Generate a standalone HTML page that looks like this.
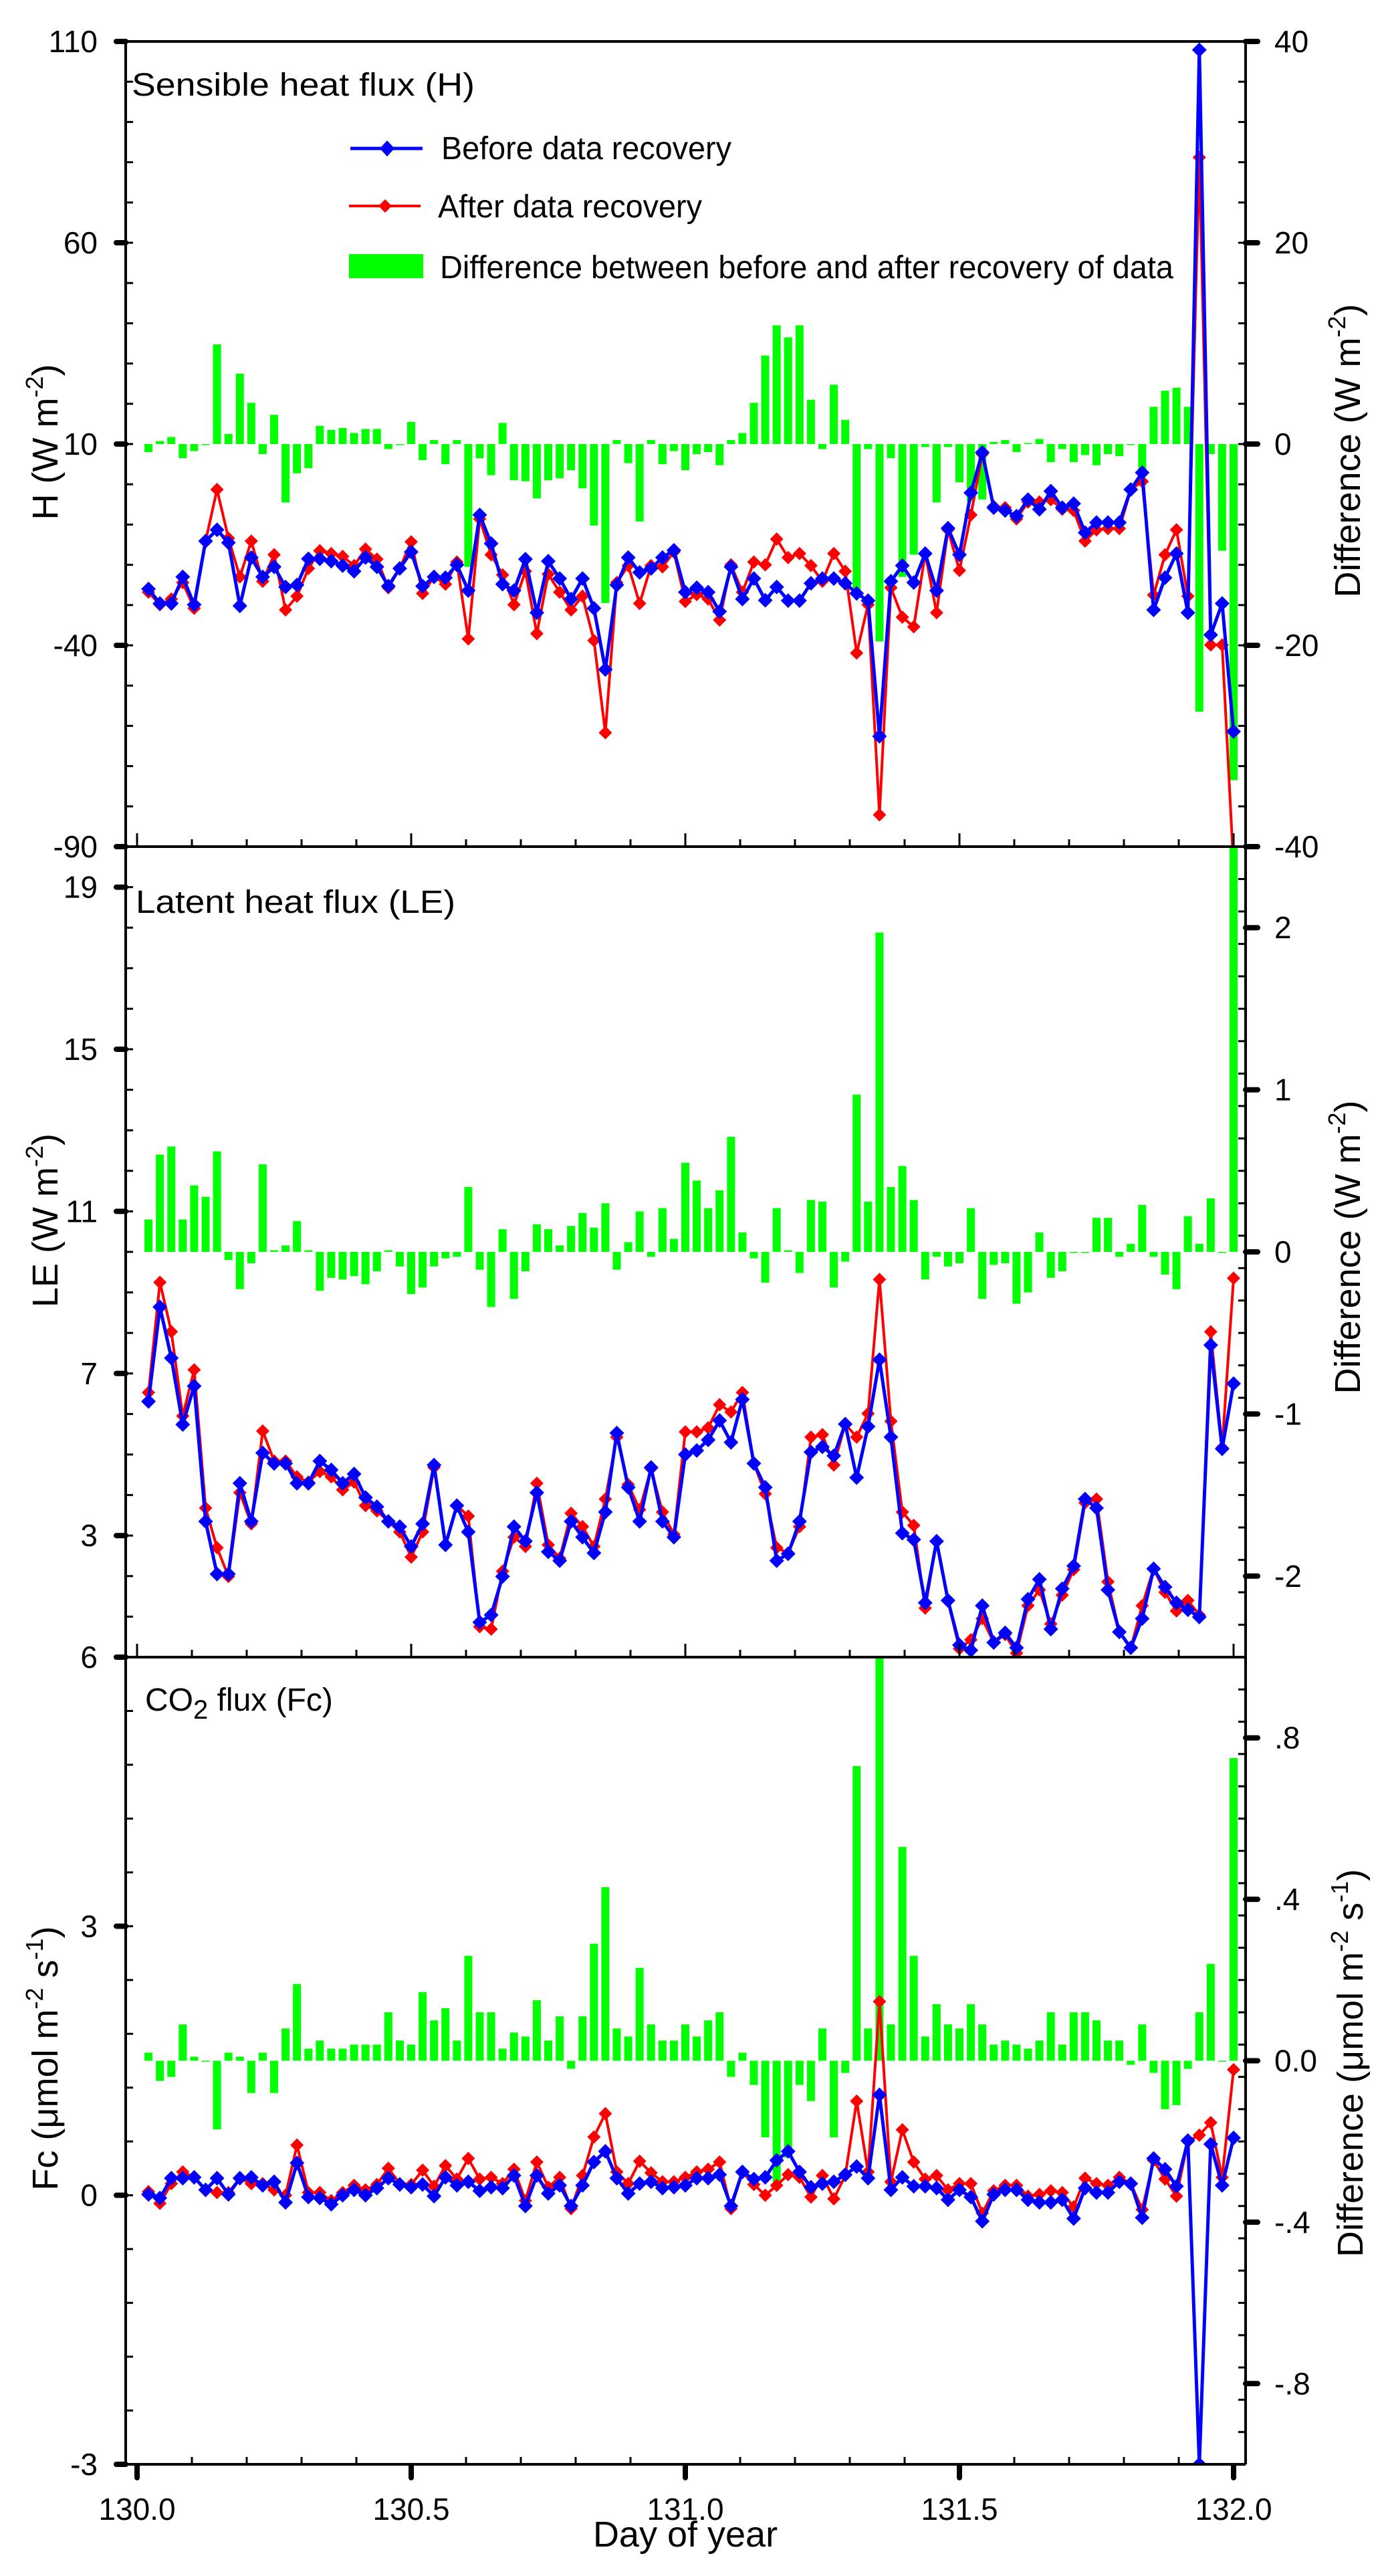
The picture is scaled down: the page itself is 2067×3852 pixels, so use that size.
<!DOCTYPE html>
<html>
<head>
<meta charset="utf-8">
<style>
html,body{margin:0;padding:0;background:#fff;}
svg{display:block;}
text{font-family:"Liberation Sans",Arial,sans-serif;fill:#000;}
</style>
</head>
<body>
<svg id="chart" width="2067" height="3852" viewBox="0 0 2067 3852">
<defs>
<clipPath id="clip0"><rect x="188" y="62" width="1675" height="1204"/></clipPath>
<clipPath id="clip1"><rect x="188" y="1266" width="1675" height="1212"/></clipPath>
<clipPath id="clip2"><rect x="188" y="2478" width="1675" height="1207"/></clipPath>
</defs>
<rect x="0" y="0" width="2067" height="3852" fill="#fff"/>
<g id="bars"></g>
<g id="lines"></g>
<g id="axes"></g>

<text x="197" y="143" font-size="48" textLength="513" lengthAdjust="spacingAndGlyphs">Sensible heat flux (H)</text>
<text x="203" y="1365" font-size="48" textLength="478" lengthAdjust="spacingAndGlyphs">Latent heat flux (LE)</text>
<text x="217" y="2558" font-size="48">CO<tspan font-size="40" dy="12">2</tspan><tspan dy="-12"> flux (Fc)</tspan></text>

<g>
<line x1="524" y1="222" x2="632" y2="222" stroke="#0000ff" stroke-width="5"/>
<polygon points="579,210 590,222 579,234 568,222" fill="#0000ff"/>
<text x="660" y="238" font-size="48" textLength="434" lengthAdjust="spacingAndGlyphs">Before data recovery</text>
<line x1="522" y1="308" x2="629" y2="308" stroke="#ff0000" stroke-width="4"/>
<polygon points="576,298 586,308 576,318 566,308" fill="#ff0000"/>
<text x="655" y="325" font-size="48" textLength="395" lengthAdjust="spacingAndGlyphs">After data recovery</text>
<rect x="522" y="380" width="111" height="36" fill="#00ff00"/>
<text x="658" y="416" font-size="48" textLength="1097" lengthAdjust="spacingAndGlyphs">Difference between before and after recovery of data</text>
</g>

<text transform="translate(86,661) rotate(-90)" text-anchor="middle" font-size="54">H (W m<tspan font-size="36" dy="-22">-2</tspan><tspan dy="22">)</tspan></text>
<text transform="translate(2034,674) rotate(-90)" text-anchor="middle" font-size="54">Difference (W m<tspan font-size="36" dy="-22">-2</tspan><tspan dy="22">)</tspan></text>
<text transform="translate(86,1825) rotate(-90)" text-anchor="middle" font-size="54">LE (W m<tspan font-size="36" dy="-22">-2</tspan><tspan dy="22">)</tspan></text>
<text transform="translate(2034,1865) rotate(-90)" text-anchor="middle" font-size="54">Difference (W m<tspan font-size="36" dy="-22">-2</tspan><tspan dy="22">)</tspan></text>
<text transform="translate(86,3078) rotate(-90)" text-anchor="middle" font-size="54">Fc (μmol m<tspan font-size="36" dy="-22">-2</tspan><tspan dy="22"> s</tspan><tspan font-size="36" dy="-22">-1</tspan><tspan dy="22">)</tspan></text>
<text transform="translate(2038,3085) rotate(-90)" text-anchor="middle" font-size="54">Difference (μmol m<tspan font-size="36" dy="-22">-2</tspan><tspan dy="22"> s</tspan><tspan font-size="36" dy="-22">-1</tspan><tspan dy="22">)</tspan></text>
<text x="1025" y="3808" text-anchor="middle" font-size="54">Day of year</text>
</svg>
<script>
const dayStart = 130;
const dayStep = 1 / 48;

const hBefore = [-26.0,-29.6,-29.6,-23.0,-29.9,-14.1,-11.3,-14.5,-30.2,-18.2,
-23.0,-20.5,-25.5,-25.0,-18.5,-18.5,-19.1,-20.2,-21.6,-18.2,
-20.5,-25.3,-20.9,-16.8,-25.3,-23.0,-23.2,-20.0,-26.4,-7.6,
-14.7,-24.8,-26.4,-18.6,-31.9,-19.1,-23.4,-28.5,-23.4,-30.8,
-46.0,-25.0,-18.2,-21.9,-20.9,-18.2,-16.4,-26.8,-25.7,-26.8,
-31.6,-20.5,-28.5,-23.4,-28.8,-25.5,-28.9,-28.9,-24.6,-23.4,
-23.4,-24.6,-27.1,-28.9,-62.6,-24.1,-20.2,-24.4,-17.2,-26.4,
-10.9,-17.5,-2.1,7.9,-5.8,-6.5,-7.9,-3.8,-6.2,-1.7,
-5.8,-4.8,-12.0,-9.5,-9.5,-9.5,-1.3,2.9,-31.2,-23.2,
-17.2,-31.9,107.9,-37.4,-29.6,-61.4];
const hAfter = [-26.8,-29.9,-28.5,-24.4,-30.8,-14.1,-1.3,-13.4,-23.0,-14.1,
-24.1,-17.5,-31.2,-27.8,-20.9,-16.5,-17.2,-17.9,-20.2,-16.1,
-18.6,-25.7,-20.9,-14.3,-27.1,-23.0,-24.8,-19.3,-38.4,-8.6,
-17.5,-22.5,-29.9,-21.6,-37.1,-22.3,-26.8,-31.2,-27.8,-38.8,
-61.7,-24.4,-20.2,-29.6,-20.2,-20.5,-16.8,-29.1,-27.4,-28.5,
-33.7,-20.0,-26.8,-19.3,-20.0,-13.6,-18.2,-17.2,-20.2,-24.1,
-17.2,-21.6,-41.9,-29.9,-82.1,-25.7,-33.0,-35.4,-17.2,-31.9,
-11.3,-21.4,-7.6,7.5,-5.5,-5.8,-8.6,-4.4,-4.4,-3.8,
-6.2,-6.5,-14.1,-11.3,-11.0,-11.0,-1.3,0.7,-27.5,-17.5,
-11.3,-27.8,81.2,-39.9,-39.9,-95];
const hDiff = [-0.8,0.3,0.7,-1.4,-0.7,0,9.9,1.0,7.0,4.1,
-1.0,2.9,-5.8,-2.9,-2.4,1.8,1.4,1.6,1.1,1.5,
1.5,-0.5,0,2.2,-1.6,0.4,-2.0,0.4,-12.2,-1.4,
-3.1,2.1,-3.6,-3.7,-5.4,-3.6,-3.4,-2.6,-4.4,-8.1,
-15.8,0.4,-1.9,-7.7,0.4,-2.0,-0.7,-2.6,-1.0,-0.8,
-2.1,0.4,1.1,4.1,8.8,11.8,10.6,11.8,4.4,-0.5,
5.9,2.4,-15.0,-0.5,-19.6,-1.4,-13.2,-11.0,-0.3,-5.8,
-0.3,-3.8,-5.7,-5.5,0.2,0.4,-0.8,0.1,0.5,-1.8,
-0.5,-1.8,-1.1,-2.1,-1.0,-1.2,-0.1,-2.7,3.7,5.3,
5.6,3.7,-26.6,-1.0,-10.6,-33.4];

const leBefore = [6.31,8.64,7.38,5.74,6.69,3.35,2.05,2.05,4.29,3.35,
5.04,4.78,4.78,4.29,4.29,4.84,4.62,4.29,4.52,3.94,
3.71,3.35,3.22,2.73,3.29,4.74,2.77,3.74,3.09,0.86,
1.04,1.99,3.22,2.86,4.06,2.60,2.38,3.35,2.96,2.57,
3.58,5.53,4.19,3.35,4.68,3.35,2.96,5.00,5.10,5.36,
5.84,5.30,6.36,4.78,4.19,2.38,2.55,3.35,5.06,5.19,
4.97,5.75,4.43,5.69,7.34,5.43,3.06,2.90,1.34,2.86,
1.40,0.30,0.17,1.27,0.36,0.60,0.23,1.43,1.92,0.69,
1.69,2.25,3.90,3.68,1.66,0.62,0.23,0.95,2.18,1.73,
1.34,1.17,0.99,7.70,5.14,6.75];
const leAfter = [6.53,9.25,8.03,5.95,7.09,3.68,2.70,1.99,4.06,3.29,
5.58,4.84,4.84,4.45,4.32,4.58,4.45,4.13,4.32,3.74,
3.61,3.35,3.09,2.47,3.09,4.68,2.77,3.74,3.48,0.75,
0.69,2.12,2.96,2.73,4.29,2.77,2.44,3.55,3.22,2.73,
3.90,5.43,4.26,3.64,4.65,3.58,3.03,5.56,5.56,5.66,
6.23,6.05,6.53,4.78,4.03,2.70,2.57,3.22,5.43,5.49,
4.74,5.75,5.43,6.01,9.32,5.82,3.58,3.25,1.21,2.86,
1.38,0.21,0.43,0.95,0.36,0.56,0.10,1.27,1.66,0.82,
1.53,2.16,3.81,3.90,1.86,0.62,0.23,1.27,2.18,1.60,
1.14,1.40,1.04,8.03,5.17,9.35];
const leDiff = [0.20,0.60,0.65,0.20,0.41,0.34,0.62,-0.05,-0.23,-0.07,
0.54,0.01,0.04,0.19,0.01,-0.24,-0.16,-0.17,-0.15,-0.20,
-0.12,0.01,-0.09,-0.26,-0.22,-0.09,-0.04,-0.03,0.40,-0.11,
-0.34,0.14,-0.29,-0.12,0.17,0.14,0.04,0.16,0.24,0.15,
0.30,-0.11,0.06,0.25,-0.03,0.27,0.08,0.55,0.44,0.27,
0.38,0.71,0.12,-0.04,-0.19,0.27,0.01,-0.13,0.32,0.31,
-0.22,-0.06,0.97,0.31,1.97,0.40,0.53,0.32,-0.17,-0.03,
-0.09,-0.07,0.27,-0.29,-0.08,-0.07,-0.32,-0.25,0.12,-0.16,
-0.12,0.00,0.00,0.21,0.21,-0.03,0.05,0.29,-0.03,-0.14,
-0.23,0.22,0.05,0.33,0.00,2.6];

const fcBefore = [0.01,-0.03,0.19,0.19,0.20,0.06,0.19,0.01,0.19,0.20,
0.11,0.15,-0.08,0.36,-0.02,-0.03,-0.10,0.00,0.06,0.00,
0.08,0.19,0.12,0.09,0.12,-0.01,0.20,0.11,0.15,0.05,
0.09,0.08,0.22,-0.12,0.22,0.02,0.11,-0.12,0.11,0.37,
0.49,0.19,0.02,0.13,0.15,0.08,0.09,0.11,0.19,0.19,
0.23,-0.12,0.26,0.18,0.20,0.39,0.49,0.26,0.09,0.13,
0.15,0.23,0.32,0.19,1.12,0.06,0.20,0.10,0.10,0.08,
-0.05,0.06,-0.02,-0.29,0.01,0.06,0.06,-0.05,-0.08,-0.08,
-0.05,-0.26,0.08,0.03,0.03,0.15,0.13,-0.25,0.41,0.29,
0.10,0.61,-3.0,0.57,0.11,0.64];
const fcAfter = [0.04,-0.09,0.13,0.26,0.20,0.06,0.03,0.03,0.19,0.13,
0.13,0.06,0.00,0.56,0.03,0.03,-0.06,0.03,0.11,0.06,
0.12,0.30,0.13,0.12,0.28,0.10,0.33,0.18,0.41,0.18,
0.20,0.13,0.29,-0.06,0.37,0.09,0.20,-0.15,0.22,0.65,
0.91,0.26,0.13,0.38,0.25,0.15,0.15,0.20,0.26,0.29,
0.37,-0.15,0.26,0.12,0.00,0.11,0.23,0.20,-0.02,0.22,
-0.04,0.22,1.05,0.26,2.16,0.15,0.73,0.37,0.18,0.22,
0.06,0.13,0.13,-0.20,0.05,0.11,0.11,-0.01,0.01,0.05,
0.03,-0.13,0.19,0.13,0.11,0.20,0.13,-0.16,0.39,0.18,
-0.01,0.60,0.67,0.81,0.20,1.40];
const fcDiff = [0.02,-0.05,-0.04,0.09,0.01,0.00,-0.17,0.02,0.01,-0.08,
0.02,-0.08,0.08,0.19,0.03,0.05,0.03,0.03,0.04,0.04,
0.04,0.12,0.05,0.04,0.17,0.10,0.13,0.05,0.26,0.12,
0.12,0.03,0.07,0.06,0.15,0.05,0.11,-0.02,0.11,0.29,
0.43,0.08,0.06,0.23,0.09,0.05,0.05,0.09,0.06,0.10,
0.12,-0.04,0.02,-0.06,-0.19,-0.30,-0.24,-0.06,-0.10,0.08,
-0.19,-0.03,0.73,0.08,1.05,0.09,0.53,0.26,0.06,0.14,
0.09,0.08,0.14,0.09,0.04,0.05,0.04,0.03,0.05,0.12,
0.04,0.12,0.12,0.10,0.05,0.05,-0.01,0.09,-0.03,-0.12,
-0.11,-0.02,0.12,0.24,0.00,0.75];

const xTickValues = [130, 130.5, 131, 131.5, 132];
const xTickLabels = ['130.0', '130.5', '131.0', '131.5', '132.0'];
const hLeftTicks = [110, 60, 10, -40, -90];
const hRightTicks = [40, 20, 0, -20, -40];
const leLeftTicks = [19, 15, 11, 7, 3];
const leRightTicks = [2, 1, 0, -1, -2];
const leRightLabels = ['2', '1', '0', '-1', '-2'];
const fcLeftTicks = [6, 3, 0, -3];
const fcRightTicks = [0.8, 0.4, 0, -0.4, -0.8];
const fcRightLabels = ['.8', '.4', '0.0', '-.4', '-.8'];

const NS = 'http://www.w3.org/2000/svg';
const AX_L = 188, AX_R = 1863, X0 = 205, X1 = 1845;
function xs(t) { return X0 + (t - 130) * (X1 - X0) / 2; }

const panels = [
  {key:'h', top:62, bot:1266, lmin:-90, lmax:110, rmin:-40, rmax:40, before:hBefore, after:hAfter, diff:hDiff,
   lt:hLeftTicks, ll:hLeftTicks.map(String), rt:hRightTicks, rl:hRightTicks.map(String), lminor:10, rminor:4},
  {key:'le', top:1266, bot:2478, lmin:0, lmax:20, rmin:-2.5, rmax:2.5, before:leBefore, after:leAfter, diff:leDiff,
   lt:leLeftTicks, ll:leLeftTicks.map(String), rt:leRightTicks, rl:leRightLabels, lminor:1, rminor:0.2},
  {key:'fc', top:2478, bot:3685, lmin:-3, lmax:6, rmin:-1, rmax:1, before:fcBefore, after:fcAfter, diff:fcDiff,
   lt:fcLeftTicks, ll:fcLeftTicks.map(String), rt:fcRightTicks, rl:fcRightLabels, lminor:0.6, rminor:0.08}
];
function yL(p, v) { return p.bot - (v - p.lmin) / (p.lmax - p.lmin) * (p.bot - p.top); }
function yR(p, v) { return p.bot - (v - p.rmin) / (p.rmax - p.rmin) * (p.bot - p.top); }

const barsG = document.getElementById('bars');
const linesG = document.getElementById('lines');
const axesG = document.getElementById('axes');

function line(parent, x1, y1, x2, y2, w, cap) {
  const el = document.createElementNS(NS, 'line');
  el.setAttribute('x1', x1); el.setAttribute('y1', y1);
  el.setAttribute('x2', x2); el.setAttribute('y2', y2);
  el.setAttribute('stroke', '#000'); el.setAttribute('stroke-width', w);
  if (cap) el.setAttribute('stroke-linecap', 'round');
  parent.appendChild(el);
  return el;
}
function label(parent, x, y, txt, anchor) {
  const el = document.createElementNS(NS, 'text');
  el.setAttribute('x', x); el.setAttribute('y', y);
  el.setAttribute('font-size', '46');
  el.setAttribute('text-anchor', anchor);
  el.setAttribute('dominant-baseline', 'central');
  el.textContent = txt;
  parent.appendChild(el);
  return el;
}

panels.forEach((p, pi) => {
  const bg = document.createElementNS(NS, 'g');
  bg.setAttribute('clip-path', 'url(#clip' + pi + ')');
  barsG.appendChild(bg);
  const y0 = yR(p, 0);
  p.diff.forEach((d, i) => {
    const x = xs(dayStart + (i + 1) * dayStep);
    const yd = yR(p, d);
    const r = document.createElementNS(NS, 'rect');
    r.setAttribute('x', x - 6);
    r.setAttribute('y', Math.min(y0, yd));
    r.setAttribute('width', 12);
    r.setAttribute('height', Math.max(1.5, Math.abs(yd - y0)));
    r.setAttribute('fill', '#00ff00');
    
    
    bg.appendChild(r);
  });
  const lg = document.createElementNS(NS, 'g');
  lg.setAttribute('clip-path', 'url(#clip' + pi + ')');
  linesG.appendChild(lg);
  [['after', p.after, '#ff0000', 4, 10], ['before', p.before, '#0000ff', 5, 11]].forEach(s => {
    const pts = s[1].map((v, i) => [xs(dayStart + (i + 1) * dayStep), yL(p, v)]);
    const pl = document.createElementNS(NS, 'polyline');
    pl.setAttribute('points', pts.map(q => q[0].toFixed(1) + ',' + q[1].toFixed(1)).join(' '));
    pl.setAttribute('fill', 'none');
    pl.setAttribute('stroke', s[2]);
    pl.setAttribute('stroke-width', s[3]);
    pl.setAttribute('stroke-linejoin', 'round');
    
    
    lg.appendChild(pl);
    pts.forEach(q => {
      const m = document.createElementNS(NS, 'polygon');
      const r = s[4];
      m.setAttribute('points', `${q[0]},${q[1]-r} ${q[0]+r},${q[1]} ${q[0]},${q[1]+r} ${q[0]-r},${q[1]}`);
      m.setAttribute('fill', s[2]);
      
      
      lg.appendChild(m);
    });
  });
  const ag = document.createElementNS(NS, 'g');
  
  
  axesG.appendChild(ag);
  line(ag, AX_L, p.top, AX_L, p.bot, 4);
  line(ag, AX_R, p.top, AX_R, p.bot, 4);
  line(ag, AX_L, p.top, AX_R, p.top, 4);
  line(ag, AX_L, p.bot, AX_R, p.bot, 4);
  for (let v = p.lmin; v <= p.lmax + 1e-9; v += p.lminor) {
    const y = yL(p, v);
    if (y < p.top - 0.5 || y > p.bot + 0.5) continue;
    line(ag, AX_L, y, AX_L + 11, y, 3);
  }
  for (let v = p.rmin; v <= p.rmax + 1e-9; v += p.rminor) {
    const y = yR(p, v);
    if (y < p.top - 0.5 || y > p.bot + 0.5) continue;
    line(ag, AX_R - 11, y, AX_R, y, 3);
  }
  p.lt.forEach((v, k) => {
    const y = yL(p, v);
    line(ag, AX_L - 14, y, AX_L, y, 8, true);
    const t = label(ag, 146, y, p.ll[k], 'end');
    
    
  });
  p.rt.forEach((v, k) => {
    const y = yR(p, v);
    line(ag, AX_R, y, AX_R + 18, y, 8, true);
    const t = label(ag, 1906, y, p.rl[k], 'start');
    
    
  });
  for (let k = 0; k <= 20; k++) {
    const x = xs(130 + k * 0.1);
    const major = (k % 5 === 0);
    if (pi < 2) {
      line(ag, x, p.bot, x, p.bot - (major ? 20 : 11), 3);
    } else {
      if (major) line(ag, x, p.bot + 2, x, p.bot + 20, 8, true);
      else line(ag, x, p.bot, x, p.bot - 11, 3);
    }
  }
});
xTickValues.forEach((v, k) => {
  const t = label(axesG, xs(v), 3752, xTickLabels[k], 'middle');
  
  
});
</script>
</body>
</html>
